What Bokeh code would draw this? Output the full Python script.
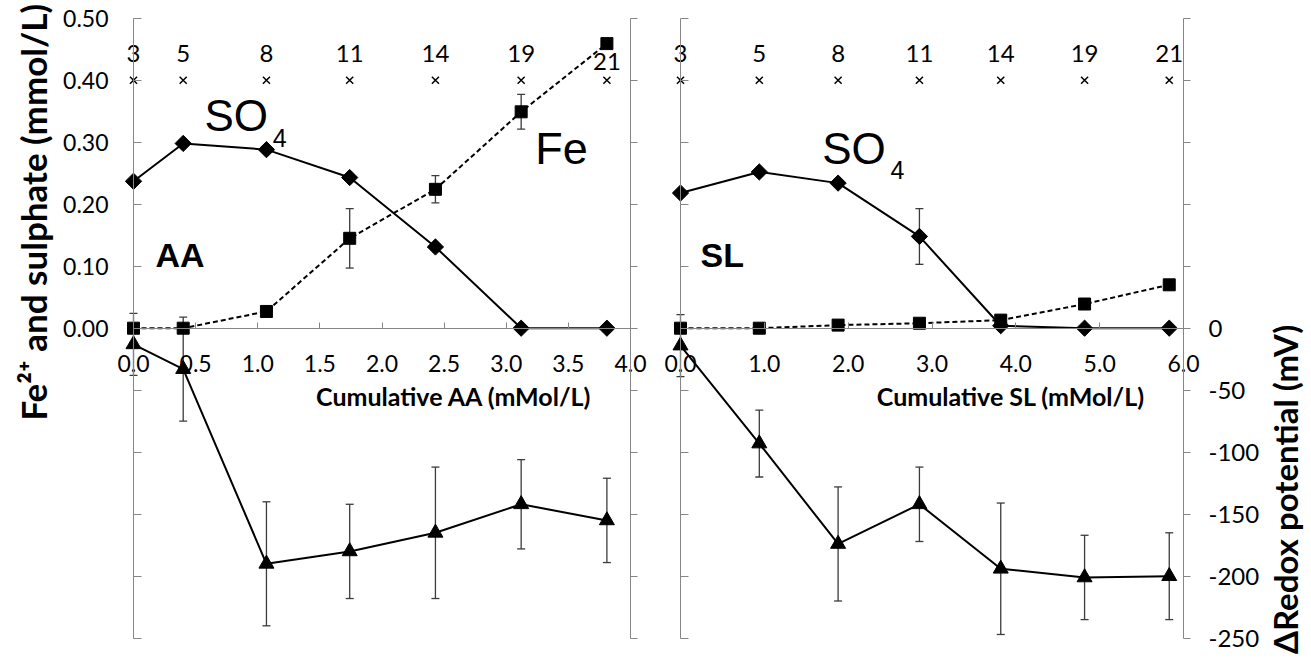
import math
from bokeh.plotting import figure
from bokeh.models import (Range1d, LinearAxis, FixedTicker, PrintfTickFormatter,
                          CustomJSTickFormatter, ColumnDataSource, Whisker, TeeHead, Label)
from bokeh.layouts import row
from bokeh.embed import file_html
from bokeh.resources import INLINE
from bokeh.core.properties import value

# ---------------- data ----------------
days = ["3", "5", "8", "11", "14", "19", "21"]
day_marker_level = 0.40

# AA panel
x_aa = [0.0, 0.40, 1.07, 1.74, 2.43, 3.12, 3.81]
so4_aa = [0.237, 0.298, 0.288, 0.243, 0.131, 0.0, 0.0]
so4_aa_err = [0, 0, 0, 0, 0, 0, 0]
fe_aa = [0.0, 0.0, 0.027, 0.145, 0.224, 0.349, 0.459]
fe_aa_err = [0, 0, 0, 0.048, 0.022, 0.028, 0]
redox_aa = [-13, -33, -190, -180, -165, -142, -155]
redox_aa_err = [25, 42, 50, 38, 53, 36, 34]

# SL panel
x_sl = [0.0, 0.94, 1.88, 2.85, 3.82, 4.82, 5.83]
so4_sl = [0.218, 0.252, 0.234, 0.148, 0.004, 0.0, 0.0]
so4_sl_err = [0, 0, 0, 0.045, 0, 0, 0]
fe_sl = [0.0, 0.0, 0.005, 0.008, 0.013, 0.039, 0.070]
fe_sl_err = [0, 0, 0, 0, 0, 0, 0]
redox_sl = [-14, -93, -174, -142, -194, -201, -200]
redox_sl_err = [25, 27, 46, 30, 53, 34, 35]

conc_ticks = [-0.5, -0.4, -0.3, -0.2, -0.1, 0.0, 0.1, 0.2, 0.3, 0.4, 0.5]
redox_ticks = [-250, -200, -150, -100, -50, 0, 50, 100, 150, 200, 250]
aa_ticks = [0.0, 0.5, 1.0, 1.5, 2.0, 2.5, 3.0, 3.5, 4.0]
sl_ticks = [0.0, 1.0, 2.0, 3.0, 4.0, 5.0, 6.0]

FONT = "Lato"
GREY = "#868686"
ERR = "#3c3c3c"
H = 668

# pixel layout of the two panels (frame covers whole canvas, axes are fixed in data space)
Y0_PX = 327.7          # pixel row of concentration 0
Y_PX_PER_UNIT = 620.0  # pixels per 1 mmol/L
Y_RANGE = (-(H - Y0_PX) / Y_PX_PER_UNIT, Y0_PX / Y_PX_PER_UNIT)
MV_PER_UNIT = 500.0    # 0.1 mmol/L <-> 50 mV


def base_fig(width, x0_px, px_per_unit):
    xr = Range1d(-x0_px / px_per_unit, (width - x0_px) / px_per_unit)
    p = figure(width=width, height=H, output_backend="svg", toolbar_location=None,
               x_range=xr, y_range=Range1d(*Y_RANGE),
               x_axis_location=None, y_axis_location=None,
               min_border=0, min_border_left=0, min_border_right=0,
               min_border_top=0, min_border_bottom=0)
    p.extra_y_ranges = {"redox": Range1d(Y_RANGE[0] * MV_PER_UNIT, Y_RANGE[1] * MV_PER_UNIT)}
    p.grid.visible = False
    p.outline_line_color = None
    p.background_fill_color = "white"
    p.border_fill_color = "white"
    return p


def style_axis(ax, tin=0, tout=0, size="23px"):
    ax.axis_line_color = GREY
    ax.major_tick_line_color = GREY
    ax.minor_tick_line_color = None
    ax.major_tick_in = tin
    ax.major_tick_out = tout
    ax.major_label_text_font = FONT
    ax.major_label_text_font_size = size
    ax.major_label_text_color = "black"


def add_err(p, xs, ys, errs, range_name="default"):
    pts = [(a, b, e) for a, b, e in zip(xs, ys, errs) if e > 0]
    if not pts:
        return
    src = ColumnDataSource(dict(base=[a for a, _, _ in pts],
                                upper=[b + e for _, b, e in pts],
                                lower=[b - e for _, b, e in pts]))
    w = Whisker(base="base", upper="upper", lower="lower", source=src, dimension="height",
                line_color=ERR, line_width=1.3, y_range_name=range_name,
                upper_head=TeeHead(size=8, line_color=ERR, line_width=1.3),
                lower_head=TeeHead(size=8, line_color=ERR, line_width=1.3))
    p.add_layout(w)


def add_series(p, xs, so4, so4e, fe, fee, rd, rde):
    add_err(p, xs, fe, fee)
    add_err(p, xs, so4, so4e)
    add_err(p, xs, rd, rde, "redox")
    p.line(xs, fe, line_color="black", line_width=2, line_dash="5 3")
    p.line(xs, so4, line_color="black", line_width=2)
    p.line(xs, rd, line_color="black", line_width=2, y_range_name="redox")
    p.scatter(xs, fe, marker="square", size=12, color="black")
    p.scatter(xs, so4, marker="square", size=11.5, angle=math.pi / 4, color="black")
    p.scatter(xs, rd, marker="triangle", size=15, color="black", y_range_name="redox")
    p.scatter(xs, [day_marker_level] * len(xs), marker="x", size=10, line_color="black",
              line_width=1.5)


def day_labels(p, xs, offsets):
    src = ColumnDataSource(dict(x=xs, y=[day_marker_level] * len(xs), t=days, yo=offsets))
    p.text(x="x", y="y", text="t", y_offset="yo", source=src, text_font=value(FONT),
           text_font_size=value("24px"), text_align="center", text_baseline="alphabetic",
           text_color="black")


def big_text(p, x, y, t, size_px, bold=False):
    p.text(x=[x], y=[y], text=[t], text_font=value("Liberation Sans"),
           text_font_size=value("%dpx" % size_px), text_font_style="bold" if bold else "normal",
           text_align="left", text_baseline="alphabetic", text_color="black",
           y_offset=-0.4 * size_px)


def x_axis(p, xmax, ticks):
    ax = LinearAxis(fixed_location=0, bounds=(0, xmax), ticker=FixedTicker(ticks=ticks),
                    formatter=PrintfTickFormatter(format="%.1f"))
    style_axis(ax, tin=6)
    ax.major_label_standoff = 27
    p.add_layout(ax, "below")


def title(p, x, y, x_offset, text, size):
    p.add_layout(Label(x=x, y=y, x_offset=x_offset, text=text, text_font=FONT,
                       text_font_size=size, text_font_style="bold", angle=math.pi / 2,
                       text_align="center", text_baseline="middle", text_color="black"))


# ---------------- left panel (AA) ----------------
pL = base_fig(655, 133.0, 497.0 / 4.0)
x_axis(pL, 4.0, aa_ticks)

axL_y = LinearAxis(fixed_location=0, bounds=(-0.5, 0.5), ticker=FixedTicker(ticks=conc_ticks),
                   formatter=CustomJSTickFormatter(code="return tick < -1e-9 ? '' : tick.toFixed(2);"))
style_axis(axL_y, tin=8)
axL_y.major_label_standoff = 25
pL.add_layout(axL_y, "left")

axL_r = LinearAxis(fixed_location=4.0, y_range_name="redox", bounds=(-250, 250),
                   ticker=FixedTicker(ticks=redox_ticks),
                   formatter=CustomJSTickFormatter(code="return '';"))
style_axis(axL_r, tout=7)
pL.add_layout(axL_r, "right")

add_series(pL, x_aa, so4_aa, so4_aa_err, fe_aa, fe_aa_err, redox_aa, redox_aa_err)
day_labels(pL, x_aa, [-27, -27, -27, -27, -27, -27, -19])
big_text(pL, 0.571, 0.314, "SO", 44)
big_text(pL, 1.12, 0.291, "4", 25)
big_text(pL, 3.234, 0.261, "Fe", 45)
big_text(pL, 0.177, 0.096, "AA", 34, bold=True)
pL.add_layout(Label(x=2.58, y=-0.110, text="Cumulative AA (mMol/L)", text_font=FONT,
                    text_font_size="25px", text_font_style="bold", text_align="center",
                    text_baseline="middle", text_color="black"))
title(pL, 0.0, 0.187, -101, "Fe\u00b2\u207a and sulphate (mmol/L)", "35px")

# ---------------- right panel (SL) ----------------
pR = base_fig(656, 25.0, 503.0 / 6.0)
x_axis(pR, 6.0, sl_ticks)

axR_y = LinearAxis(fixed_location=0, bounds=(-0.5, 0.5), ticker=FixedTicker(ticks=conc_ticks),
                   formatter=CustomJSTickFormatter(code="return '';"))
style_axis(axR_y, tin=8)
pR.add_layout(axR_y, "left")

axR_r = LinearAxis(fixed_location=6.0, y_range_name="redox", bounds=(-250, 250),
                   ticker=FixedTicker(ticks=redox_ticks),
                   formatter=CustomJSTickFormatter(code="return tick > 1e-9 ? '' : tick.toFixed(0);"))
style_axis(axR_r, tout=7, size="24px")
axR_r.major_label_standoff = 18
pR.add_layout(axR_r, "right")

add_series(pR, x_sl, so4_sl, so4_sl_err, fe_sl, fe_sl_err, redox_sl, redox_sl_err)
day_labels(pR, x_sl, [-27] * 7)
big_text(pR, 1.69, 0.262, "SO", 44)
big_text(pR, 2.506, 0.239, "4", 25)
big_text(pR, 0.239, 0.096, "SL", 34, bold=True)
pR.add_layout(Label(x=3.94, y=-0.110, text="Cumulative SL (mMol/L)", text_font=FONT,
                    text_font_size="25px", text_font_style="bold", text_align="center",
                    text_baseline="middle", text_color="black"))
title(pR, 6.0, -0.26, 101, "\u0394Redox potential (mV)", "33px")

layout = row(pL, pR)
open("out.html", "w").write(file_html(layout, INLINE))
